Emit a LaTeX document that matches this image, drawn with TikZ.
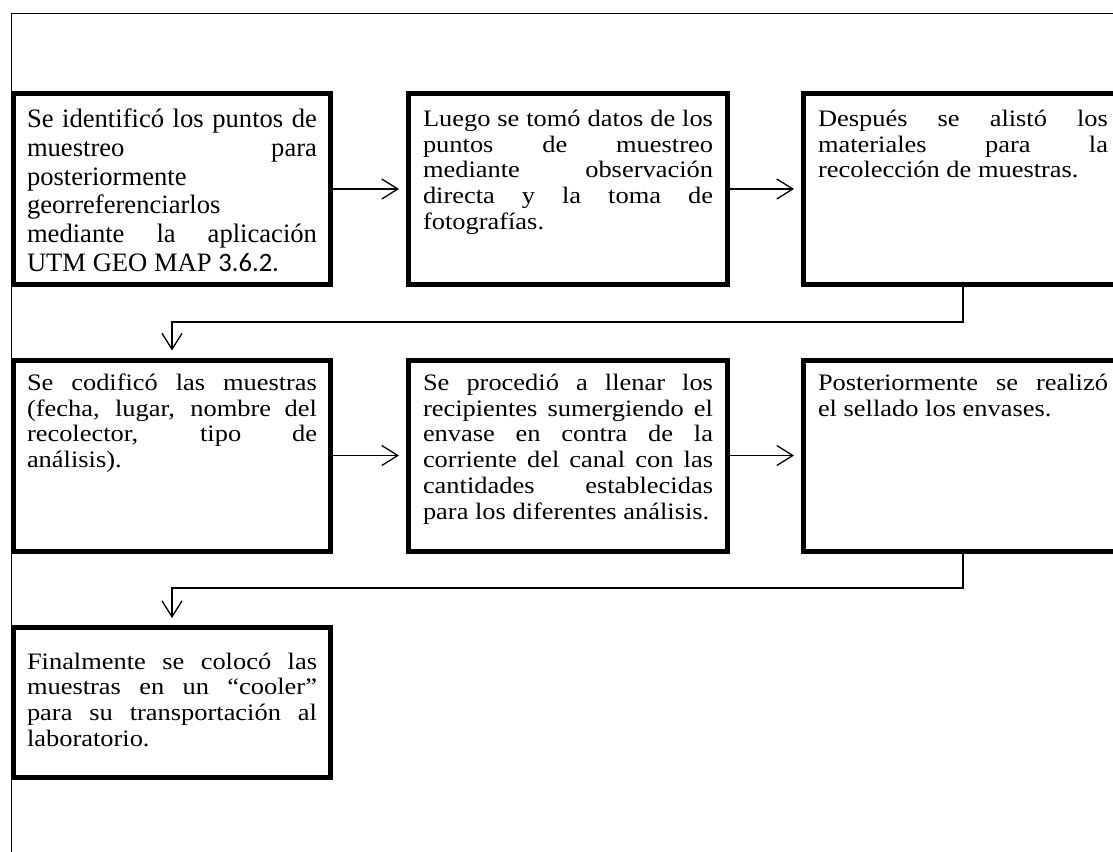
\documentclass[tikz,border=0pt]{standalone}
\usepackage{fontspec}
\setmainfont[FakeStretch=1.12]{Liberation Serif}
\newfontfamily\grande{Liberation Serif}
\newfontfamily\calibri{Carlito}
\usetikzlibrary{calc,arrows.meta}
\hyphenpenalty=10000
\tolerance=10000
\hbadness=10000

\begin{document}
\begin{tikzpicture}[x=0.5pt,y=-0.5pt,
		caja/.style={draw,line width=2.5pt,anchor=north west,inner ysep=0pt,inner xsep=7.25pt,font=\fontsize{11.8pt}{12.85pt}\selectfont},
		flecha/.style={line width=0.65pt,-{Straight Barb[length=8pt,width=10pt]},shorten >=3.5pt},
		marco/.style={line width=0.65pt}]
				\useasboundingbox (0,0) rectangle (1113,851);
				\clip (0,0) rectangle (1113,851);
				\draw[marco] (1125,13.3)--(11.5,13.3)--(11.5,860);

				\coordinate (A1) at (11,91);
				\coordinate (A2) at (406,91);
				\coordinate (A3) at (801,91);
				\coordinate (B1) at (11,357.5);
				\coordinate (B2) at (406,357.5);
				\coordinate (B3) at (801,357.5);
				\coordinate (C1) at (11,625);
				\coordinate (K1) at (0,322);
				\coordinate (K2) at (0,588);

				\node (b1) at (A1)[caja,inner xsep=6.75pt,font=\grande\fontsize{13.3pt}{14.4pt}\selectfont]{\parbox[c][95.5pt][t]{145pt}{\rule{0pt}{17pt}Se identificó los puntos de\linebreak muestreo para\linebreak posteriormente\linebreak georreferenciarlos\linebreak mediante la aplicación\linebreak UTM GEO MAP {\calibri 3.6.2.}}};
				\node (b2) at (A2)[caja]{\parbox[c][95.5pt][t]{145pt}{\rule{0pt}{16.5pt}Luego se tomó datos de los\linebreak puntos de muestreo\linebreak mediante observación\linebreak directa y la toma de\linebreak fotografías.}};
				\node (b3) at (A3)[caja]{\parbox[c][95.5pt][t]{145pt}{\rule{0pt}{16.5pt}Después se alistó los\linebreak materiales para la\linebreak recolección de muestras.}};
				\node (b4) at (B1)[caja,inner xsep=6.75pt]{\parbox[c][95.5pt][t]{145pt}{\rule{0pt}{15.25pt}Se codificó las muestras\linebreak (fecha, lugar, nombre del\linebreak recolector, tipo de\linebreak análisis).}};
				\node (b5) at (B2)[caja]{\parbox[c][95.5pt][t]{145pt}{\rule{0pt}{15.25pt}Se procedió a llenar los\linebreak recipientes sumergiendo el\linebreak envase en contra de la\linebreak corriente del canal con las\linebreak cantidades establecidas\linebreak para los diferentes análisis.}};
				\node (b6) at (B3)[caja]{\parbox[c][95.5pt][t]{145pt}{\rule{0pt}{15.25pt}Posteriormente se realizó\linebreak el sellado los envases.}};
				\node (b7) at (C1)[caja,inner xsep=6.75pt]{\parbox[c][75pt][t]{145pt}{\rule{0pt}{20.75pt}Finalmente se colocó las\linebreak muestras en un “cooler”\linebreak para su transportación al\linebreak laboratorio.}};

				\draw[flecha] (b1.east)--(b2.west);
				\draw[flecha] (b2.east)--(b3.west);
				\draw[flecha] (b3.south)--(b3.south |- K1)--(b4.north |- K1)--(b4.north);
				\draw[flecha] (b4.east)--(b5.west);
				\draw[flecha] (b5.east)--(b6.west);
				\draw[flecha] (b6.south)--(b6.south |- K2)--(b7.north |- K2)--(b7.north);
			\end{tikzpicture}
\end{document}
